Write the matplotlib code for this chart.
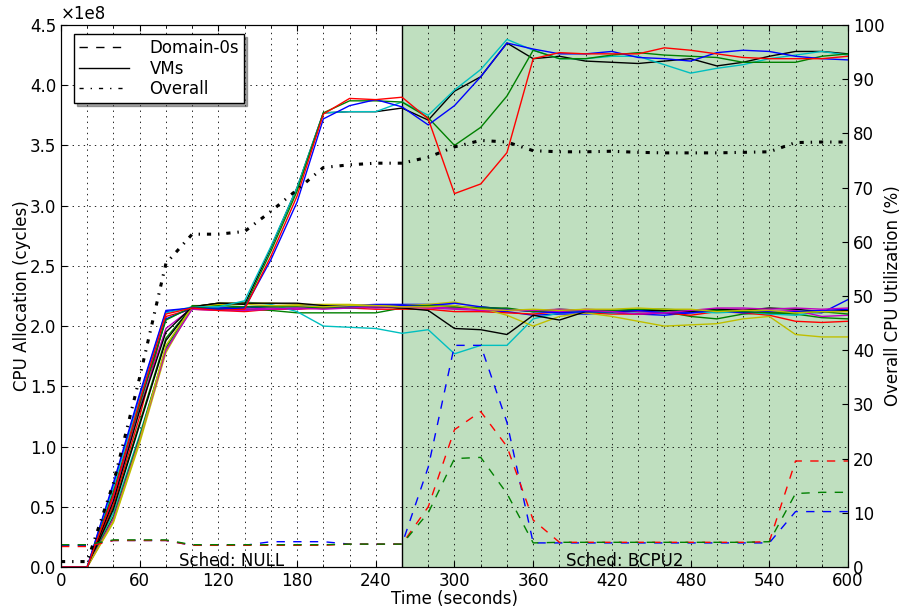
import matplotlib
matplotlib.use("Agg")
import matplotlib.pyplot as plt
from matplotlib.lines import Line2D
from matplotlib.ticker import MultipleLocator

plt.rcParams['font.family'] = ['DejaVu Sans']
plt.rcParams['font.size'] = 12
plt.rcParams['lines.scale_dashes'] = False

# time axis (seconds)
t = [0, 20, 40, 60, 80, 100, 120, 140, 160, 180, 200, 220, 240, 260, 280, 300,
     320, 340, 360, 380, 400, 420, 440, 460, 480, 500, 520, 540, 560, 580, 600]

# VMs with heavy load (x1e8 cycles)
vm_hi_b = [0, 0, 0.70, 1.44, 2.13, 2.15, 2.14, 2.15, 2.55, 3.03, 3.72, 3.83, 3.88, 3.82, 3.67, 3.83,
           4.07, 4.35, 4.30, 4.26, 4.26, 4.28, 4.23, 4.22, 4.20, 4.27, 4.29, 4.28, 4.24, 4.22, 4.21]
vm_hi_g = [0, 0, 0.62, 1.35, 2.05, 2.16, 2.14, 2.16, 2.62, 3.12, 3.77, 3.87, 3.87, 3.86, 3.73, 3.50,
           3.65, 3.91, 4.29, 4.22, 4.22, 4.25, 4.27, 4.25, 4.24, 4.23, 4.19, 4.19, 4.19, 4.24, 4.26]
vm_hi_r = [0, 0, 0.60, 1.38, 2.10, 2.15, 2.13, 2.14, 2.58, 3.08, 3.76, 3.89, 3.88, 3.90, 3.72, 3.10,
           3.18, 3.44, 4.22, 4.27, 4.26, 4.26, 4.26, 4.31, 4.29, 4.26, 4.23, 4.22, 4.22, 4.22, 4.24]
vm_hi_c = [0, 0, 0.66, 1.40, 2.11, 2.16, 2.16, 2.21, 2.66, 3.15, 3.77, 3.78, 3.78, 3.86, 3.75, 3.96,
           4.13, 4.38, 4.29, 4.22, 4.22, 4.24, 4.24, 4.17, 4.10, 4.14, 4.17, 4.22, 4.25, 4.28, 4.25]
vm_hi_k = [0, 0, 0.55, 1.30, 1.95, 2.16, 2.19, 2.18, 2.65, 3.15, 3.77, 3.78, 3.78, 3.81, 3.71, 3.95,
           4.07, 4.35, 4.22, 4.24, 4.20, 4.19, 4.18, 4.20, 4.22, 4.16, 4.19, 4.24, 4.28, 4.28, 4.26]

# the other VMs
vm_lo_b = [0, 0, 0.68, 1.42, 2.12, 2.15, 2.14, 2.15, 2.16, 2.16, 2.17, 2.17, 2.18, 2.18, 2.18, 2.17,
           2.13, 2.12, 2.09, 2.10, 2.10, 2.11, 2.10, 2.09, 2.11, 2.12, 2.12, 2.10, 2.12, 2.11, 2.22]
vm_lo_g = [0, 0, 0.50, 1.20, 1.90, 2.16, 2.15, 2.14, 2.13, 2.11, 2.11, 2.11, 2.11, 2.15, 2.16, 2.15,
           2.16, 2.14, 2.12, 2.13, 2.12, 2.13, 2.12, 2.12, 2.08, 2.06, 2.10, 2.11, 2.10, 2.07, 2.06]
vm_lo_r = [0, 0, 0.52, 1.25, 2.08, 2.14, 2.13, 2.12, 2.14, 2.14, 2.15, 2.15, 2.14, 2.14, 2.14, 2.12,
           2.12, 2.11, 2.10, 2.12, 2.11, 2.10, 2.10, 2.11, 2.09, 2.12, 2.11, 2.09, 2.04, 2.03, 2.04]
vm_lo_c = [0, 0, 0.45, 1.10, 1.80, 2.15, 2.16, 2.20, 2.18, 2.12, 2.00, 1.99, 1.98, 1.94, 1.97, 1.77,
           1.84, 1.84, 2.06, 2.11, 2.12, 2.11, 2.12, 2.13, 2.12, 2.11, 2.12, 2.10, 2.09, 2.12, 2.13]
vm_lo_m = [0, 0, 0.58, 1.32, 1.98, 2.15, 2.14, 2.14, 2.15, 2.14, 2.16, 2.16, 2.15, 2.16, 2.16, 2.15,
           2.14, 2.14, 2.13, 2.12, 2.14, 2.13, 2.12, 2.11, 2.12, 2.14, 2.14, 2.12, 2.13, 2.08, 2.09]
vm_lo_y = [0, 0, 0.37, 1.03, 1.78, 2.16, 2.19, 2.19, 2.19, 2.18, 2.18, 2.18, 2.17, 2.17, 2.18, 2.20,
           2.15, 2.09, 2.00, 2.08, 2.11, 2.08, 2.04, 2.00, 2.01, 2.02, 2.06, 2.08, 1.93, 1.91, 1.91]
vm_lo_k = [0, 0, 0.48, 1.18, 1.88, 2.16, 2.19, 2.19, 2.19, 2.19, 2.17, 2.16, 2.16, 2.15, 2.13, 1.98,
           1.97, 1.93, 2.09, 2.05, 2.12, 2.12, 2.13, 2.13, 2.12, 2.14, 2.13, 2.15, 2.14, 2.12, 2.13]
vm_lo_b2 = [0, 0, 0.62, 1.36, 2.06, 2.15, 2.15, 2.16, 2.17, 2.17, 2.16, 2.16, 2.16, 2.17, 2.17, 2.19,
            2.16, 2.14, 2.12, 2.11, 2.12, 2.12, 2.13, 2.11, 2.11, 2.13, 2.11, 2.12, 2.12, 2.13, 2.14]
vm_lo_g2 = [0, 0, 0.42, 1.08, 1.82, 2.17, 2.17, 2.16, 2.16, 2.16, 2.15, 2.15, 2.16, 2.16, 2.17, 2.16,
            2.15, 2.15, 2.12, 2.14, 2.13, 2.13, 2.14, 2.14, 2.13, 2.13, 2.12, 2.11, 2.11, 2.12, 2.10]
vm_lo_m2 = [0, 0, 0.40, 1.06, 1.80, 2.14, 2.13, 2.13, 2.14, 2.15, 2.14, 2.15, 2.16, 2.16, 2.15, 2.14,
            2.13, 2.13, 2.13, 2.14, 2.13, 2.12, 2.10, 2.11, 2.13, 2.15, 2.15, 2.14, 2.15, 2.14, 2.15]
vm_lo_y2 = [0, 0, 0.38, 1.05, 1.84, 2.16, 2.18, 2.18, 2.17, 2.17, 2.16, 2.17, 2.17, 2.16, 2.16, 2.17,
            2.14, 2.13, 2.14, 2.13, 2.14, 2.14, 2.15, 2.14, 2.14, 2.12, 2.13, 2.13, 2.11, 2.12, 2.12]

# Domain-0s (x1e8 cycles)
dom0_r = [0.17, 0.17, 0.22, 0.22, 0.22, 0.18, 0.18, 0.18, 0.18, 0.18, 0.18, 0.19, 0.19, 0.19, 0.50, 1.14,
          1.29, 1.00, 0.39, 0.205, 0.205, 0.205, 0.205, 0.205, 0.205, 0.205, 0.205, 0.21, 0.88, 0.88, 0.88]
dom0_g = [0.185, 0.185, 0.225, 0.225, 0.225, 0.185, 0.185, 0.185, 0.185, 0.185, 0.185, 0.19, 0.19, 0.19, 0.45, 0.90,
          0.91, 0.61, 0.20, 0.205, 0.205, 0.205, 0.205, 0.205, 0.205, 0.205, 0.205, 0.21, 0.61, 0.62, 0.62]
dom0_b = [0.18, 0.18, 0.22, 0.22, 0.22, 0.18, 0.18, 0.18, 0.21, 0.21, 0.21, 0.19, 0.19, 0.19, 0.83, 1.84,
          1.84, 1.20, 0.20, 0.20, 0.20, 0.20, 0.20, 0.20, 0.20, 0.20, 0.20, 0.20, 0.46, 0.46, 0.46]

# overall utilization (%)
overall = [1, 1, 15.5, 35, 56, 61.4, 61.4, 61.9, 65.6, 69.6, 73.7, 74.2, 74.5, 74.5, 75.6, 77.5,
           78.7, 78.4, 76.8, 76.6, 76.6, 76.7, 76.5, 76.4, 76.4, 76.4, 76.5, 76.6, 78.3, 78.4, 78.4]

sched_switch = 260

# classic colours
C = {'b': (0, 0, 1), 'g': (0, 0.5, 0), 'r': (1, 0, 0), 'c': (0, 0.75, 0.75),
     'm': (0.75, 0, 0.75), 'y': (0.75, 0.75, 0), 'k': (0, 0, 0)}

vms_lo = [(vm_lo_b, 'b'), (vm_lo_g, 'g'), (vm_lo_r, 'r'), (vm_lo_c, 'c'), (vm_lo_m, 'm'),
          (vm_lo_y, 'y'), (vm_lo_k, 'k'), (vm_lo_b2, 'b'), (vm_lo_g2, 'g'), (vm_lo_m2, 'm'),
          (vm_lo_y2, 'y')]
vms_hi = [(vm_hi_k, 'k'), (vm_hi_c, 'c'), (vm_hi_g, 'g'), (vm_hi_b, 'b'), (vm_hi_r, 'r')]
dom0s = [(dom0_b, 'b'), (dom0_r, 'r'), (dom0_g, 'g')]

fig = plt.figure(figsize=(9.05, 6.07), dpi=100)
ax = fig.add_axes([0.0674, 0.0659, 0.8696, 0.893])
ax2 = ax.twinx()

ax.axvspan(sched_switch, 600, facecolor=C['g'], alpha=0.25, lw=0, zorder=0)
ax.axvline(sched_switch, color='k', lw=1, zorder=1)

for vals, c in vms_lo + vms_hi:
    ax.plot(t, vals, color=C[c], lw=1, zorder=3)
for vals, c in dom0s:
    ax.plot(t, vals, color=C[c], lw=1, linestyle=(0, (6, 6)), zorder=3)

ax2.plot(t, overall, color='k', lw=2.2, linestyle=(0, (3, 5, 1, 5)))

ax.set_xlim(0, 600)
ax.set_ylim(0, 4.5)
ax2.set_ylim(0, 100)
ax.xaxis.set_major_locator(MultipleLocator(60))
ax.xaxis.set_minor_locator(MultipleLocator(20))
ax.yaxis.set_major_locator(MultipleLocator(0.5))
ax2.yaxis.set_major_locator(MultipleLocator(10))
ax.tick_params(which='both', direction='in', top=True, labelsize=12)
ax.tick_params(which='major', length=4)
ax.tick_params(which='minor', length=2)
ax.tick_params(axis='y', right=False)
ax2.tick_params(direction='in', length=4, labelsize=12)
ax.yaxis.set_major_formatter(plt.FuncFormatter(lambda v, p: f"{v:.1f}"))

ax.grid(True, which='both', axis='x', color='k', linestyle=(0, (1, 3)), lw=0.6)
ax.grid(True, which='major', axis='y', color='k', linestyle=(0, (1, 3)), lw=0.6)
ax.set_axisbelow(False)

ax.text(0.0, 1.003, '\u00d71e8', transform=ax.transAxes, ha='left', va='bottom', fontsize=12)

ax.set_xlabel('Time (seconds)', fontsize=12, labelpad=0)
ax.set_ylabel('CPU Allocation (cycles)', fontsize=12, labelpad=-1)
ax2.set_ylabel('Overall CPU Utilization (%)', fontsize=12, labelpad=0)

ax.text(sched_switch / 2, 0.01, 'Sched: NULL', ha='center', va='baseline', fontsize=12, zorder=2)
ax.text((sched_switch + 600) / 2, 0.01, 'Sched: BCPU2', ha='center', va='baseline', fontsize=12, zorder=2)

handles = [Line2D([], [], color='k', lw=1, linestyle=(0, (6, 6))),
           Line2D([], [], color='k', lw=1),
           Line2D([], [], color='k', lw=1, linestyle=(0, (3, 5, 1, 5)))]
leg = ax2.legend(handles, ['Domain-0s', 'VMs', 'Overall'], loc='upper left',
                 bbox_to_anchor=(0.017, 0.983), fancybox=False, shadow=True, framealpha=1,
                 edgecolor='k', fontsize=12, labelspacing=0.15, handlelength=3.0,
                 borderaxespad=0, borderpad=0.3, handletextpad=1.2)
leg.get_frame().set_linewidth(1)

fig.savefig('out.png', dpi=100)
